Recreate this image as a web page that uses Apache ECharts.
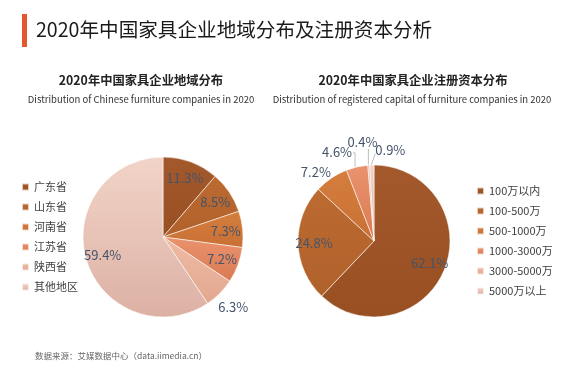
<!DOCTYPE html>
<html>
<head>
<meta charset="utf-8">
<script src="https://cdn.jsdelivr.net/npm/echarts@6/dist/echarts.min.js"></script>
<style>
  html, body { margin: 0; padding: 0; background: #fff; }
  #chart { width: 578px; height: 376px; }
</style>
</head>
<body>
<div id="chart"></div>
<script>
// 地域分布
var regionNames = ['广东省', '山东省', '河南省', '江苏省', '陕西省', '其他地区'];
var regionValues = [11.3, 8.5, 7.3, 7.2, 6.3, 59.4];
// 注册资本分布
var capitalNames = ['100万以内', '100-500万', '500-1000万', '1000-3000万', '3000-5000万', '5000万以上'];
var capitalValues = [62.1, 24.8, 7.2, 4.6, 0.4, 0.9];

// 每块的渐变色 (上 -> 下)
var sliceColors = [
    ['#a3592b', '#984f22'],
    ['#bc6b31', '#b0612a'],
    ['#d57d3d', '#c97135'],
    ['#ea936f', '#d97a52'],
    ['#eebaa4', '#e3a890'],
    ['#f2d4c8', '#dcb1a4']
];
var font = '"Noto Sans CJK SC", "Noto Sans", sans-serif';
var labelColor = '#44546a';

function grad(i) {
    return new echarts.graphic.LinearGradient(0, 0, 0, 1, [
        { offset: 0, color: sliceColors[i][0] },
        { offset: 1, color: sliceColors[i][1] }
    ]);
}

function buildData(names, values, labelFn) {
    return names.map(function (n, i) {
        var item = {
            name: n,
            value: values[i],
            itemStyle: { color: grad(i) }
        };
        if (labelFn) item.label = { show: labelFn(i) };
        return item;
    });
}

function overlayData(names, values, showFn) {
    return names.map(function (n, i) {
        return {
            name: n,
            value: values[i],
            label: { show: showFn(i) }
        };
    });
}

var chart = echarts.init(document.getElementById('chart'));

var labelStyle = {
    color: labelColor,
    fontSize: 13,
    fontFamily: font,
    formatter: '{c}%'
};

var overlayBase = {
    type: 'pie',
    silent: true,
    startAngle: 90,
    clockwise: true,
    legendHoverLink: false,
    animation: false,
    itemStyle: { color: 'rgba(0,0,0,0)' },
    labelLine: { show: false },
    emphasis: { disabled: true }
};

var legendBase = {
    orient: 'vertical',
    padding: 0,
    icon: 'rect',
    itemWidth: 7,
    itemHeight: 7,
    itemGap: 8,
    selectedMode: false,
    textStyle: { fontSize: 11, color: '#404040', fontFamily: font, lineHeight: 12 }
};

var option = {
    backgroundColor: '#fff',
    animation: false,
    title: [{
        text: '2020年中国家具企业地域分布及注册资本分析',
        left: 36,
        top: 18,
        padding: 0,
        textStyle: { fontSize: 19.6, fontWeight: 'normal', color: '#1a1a1a', fontFamily: font, lineHeight: 24 }
    }, {
        text: '2020年中国家具企业地域分布',
        left: 141,
        top: 72,
        padding: 0,
        textAlign: 'center',
        textStyle: { fontSize: 12.3, fontWeight: 'bold', color: '#222', fontFamily: font, lineHeight: 16 }
    }, {
        text: 'Distribution of Chinese furniture companies in 2020',
        left: 141,
        top: 92,
        padding: 0,
        textAlign: 'center',
        textStyle: { fontSize: 9.5, fontWeight: 'normal', color: '#333', fontFamily: font, lineHeight: 14 }
    }, {
        text: '2020年中国家具企业注册资本分布',
        left: 413,
        top: 72,
        padding: 0,
        textAlign: 'center',
        textStyle: { fontSize: 12.3, fontWeight: 'bold', color: '#222', fontFamily: font, lineHeight: 16 }
    }, {
        text: 'Distribution of registered capital of furniture companies in 2020',
        left: 412,
        top: 92,
        padding: 0,
        textAlign: 'center',
        textStyle: { fontSize: 9.5, fontWeight: 'normal', color: '#333', fontFamily: font, lineHeight: 14 }
    }, {
        text: '数据来源：艾媒数据中心（data.iimedia.cn）',
        left: 35,
        top: 349,
        padding: 0,
        textStyle: { fontSize: 8.5, fontWeight: 'normal', color: '#666', fontFamily: font, lineHeight: 14 }
    }],
    graphic: [{
        type: 'rect',
        shape: { x: 22, y: 14, width: 5, height: 33 },
        style: { fill: '#e4572e' }
    }],
    legend: [Object.assign({}, legendBase, {
        left: 21,
        top: 181,
        data: regionNames
    }), Object.assign({}, legendBase, {
        left: 476,
        top: 185,
        data: capitalNames
    })],
    series: [{
        // 地域分布饼图
        name: '地域分布',
        type: 'pie',
        center: [163, 237],
        radius: 80,
        startAngle: 90,
        clockwise: true,
        itemStyle: { borderColor: 'rgba(255,255,255,0.7)', borderWidth: 0.8 },
        label: { show: false },
        labelLine: { show: false },
        emphasis: { scale: false },
        data: buildData(regionNames, regionValues)
    }, Object.assign({}, overlayBase, {
        name: '地域分布-内标签',
        center: [163, 237],
        radius: [40, 80],
        label: Object.assign({ position: 'inside' }, labelStyle),
        data: overlayData(regionNames, regionValues, function (i) { return i !== 4; })
    }), Object.assign({}, overlayBase, {
        name: '地域分布-外标签',
        center: [163, 237],
        radius: [80, 112],
        label: Object.assign({ position: 'inside' }, labelStyle),
        data: overlayData(regionNames, regionValues, function (i) { return i === 4; })
    }), {
        // 注册资本饼图
        name: '注册资本',
        type: 'pie',
        center: [374, 241],
        radius: 76,
        startAngle: 90,
        clockwise: true,
        itemStyle: { borderColor: 'rgba(255,255,255,0.7)', borderWidth: 0.8 },
        label: Object.assign({ position: 'outside', distanceToLabelLine: 2 }, labelStyle),
        labelLine: { show: true, length: 8, length2: 4, lineStyle: { color: '#bfbfbf', width: 1 } },
        // 小扇区的标签按扇区外框摆放
        labelLayout: function (p) {
            var r = p.rect;
            if (p.dataIndex === 2) {
                return {
                    x: r.x + 13, y: r.y + 2, align: 'right', verticalAlign: 'middle',
                    labelLinePoints: [[r.x + 13, r.y + 8], [r.x + 13, r.y + 8], [r.x + 13, r.y + 8]]
                };
            }
            if (p.dataIndex === 3) {
                return {
                    x: r.x + 6, y: r.y - 13, align: 'right', verticalAlign: 'middle',
                    labelLinePoints: [[r.x + 9, r.y + 2], [r.x + 9, r.y - 12], [r.x + 7, r.y - 12]]
                };
            }
            if (p.dataIndex === 4) {
                return {
                    x: r.x - 5, y: r.y - 23, align: 'center', verticalAlign: 'middle',
                    labelLinePoints: [[r.x + 1, r.y], [r.x + 1, r.y - 16], [r.x + 1, r.y - 16]]
                };
            }
            if (p.dataIndex === 5) {
                return {
                    x: r.x + 6, y: r.y - 15, align: 'left', verticalAlign: 'middle',
                    labelLinePoints: [[r.x + 2, r.y], [r.x + 6, r.y - 11], [r.x + 6, r.y - 11]]
                };
            }
        },
        emphasis: { scale: false },
        data: buildData(capitalNames, capitalValues, function (i) { return i >= 2; })
    }, Object.assign({}, overlayBase, {
        name: '注册资本-内标签',
        center: [374, 241],
        radius: [38, 76],
        label: Object.assign({ position: 'inside' }, labelStyle),
        data: overlayData(capitalNames, capitalValues, function (i) { return i < 2; })
    })]
};

chart.setOption(option);
</script>
</body>
</html>
